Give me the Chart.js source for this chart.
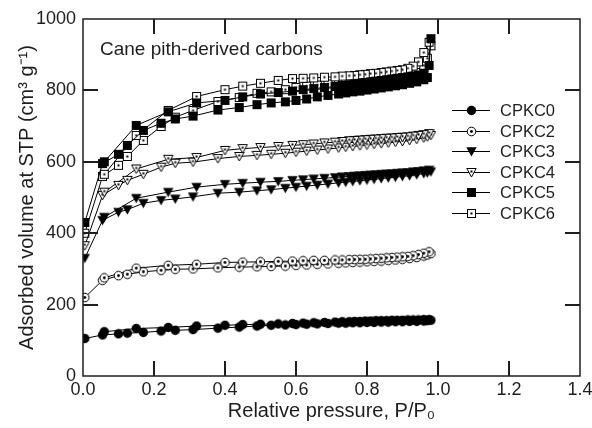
<!DOCTYPE html>
<html>
<head>
<meta charset="utf-8">
<script src="https://cdn.jsdelivr.net/npm/chart.js@4.4.0/dist/chart.umd.min.js"></script>
<style>
  html, body { margin: 0; padding: 0; background: #fff; }
  #wrap { width: 592px; height: 428px; }
</style>
</head>
<body>
<div id="wrap"><canvas id="isoChart" width="592" height="428"></canvas></div>
<script>
// Relative pressure P/P0: adsorption branch (up) and desorption branch (down)
const pAds = [0.005, 0.055, 0.1, 0.125, 0.17, 0.22, 0.26, 0.31, 0.38, 0.44, 0.49, 0.53, 0.57, 0.6, 0.63, 0.66,
              0.69, 0.72, 0.74, 0.76, 0.78, 0.8, 0.82, 0.84, 0.86, 0.88, 0.9, 0.92, 0.94, 0.96, 0.97, 0.98];
const pDes = [0.975, 0.96, 0.945, 0.93, 0.915, 0.9, 0.885, 0.87, 0.855, 0.84, 0.825, 0.81, 0.795, 0.78, 0.765,
              0.75, 0.73, 0.71, 0.68, 0.65, 0.62, 0.59, 0.55, 0.5, 0.45, 0.4, 0.32, 0.24, 0.15, 0.06];

// Adsorbed volume (cm3/g)
const cpkc0Ads = [105, 115, 118, 120, 122, 126, 128, 130, 134, 137, 140, 142, 143, 144, 145, 146, 147, 148, 148, 149, 149, 150, 150, 151, 151, 152, 152, 153, 153, 154, 155, 156];
const cpkc0Des = [158, 158, 157, 157, 157, 156, 156, 156, 155, 155, 155, 154, 154, 153, 153, 152, 152, 151, 150, 149, 148, 147, 146, 145, 144, 142, 140, 136, 133, 124];
const cpkc2Ads = [220, 268, 281, 285, 292, 296, 299, 300, 303, 305, 306, 307, 308, 310, 311, 313, 314, 316, 317, 318, 319, 320, 321, 322, 324, 325, 327, 329, 332, 336, 339, 343];
const cpkc2Des = [348, 344, 340, 337, 335, 334, 333, 332, 331, 330, 329, 328, 327, 327, 326, 326, 325, 325, 324, 324, 323, 322, 321, 320, 319, 318, 313, 310, 302, 275];
const cpkc3Ads = [330, 436, 459, 466, 484, 492, 496, 502, 512, 515, 519, 522, 526, 529, 532, 535, 538, 541, 543, 545, 547, 549, 551, 553, 555, 557, 559, 561, 564, 567, 569, 572];
const cpkc3Des = [577, 575, 573, 572, 570, 569, 568, 567, 566, 565, 564, 563, 562, 561, 560, 559, 558, 556, 554, 552, 550, 548, 545, 543, 540, 537, 529, 515, 498, 445];
const cpkc4Ads = [365, 506, 534, 548, 565, 585, 596, 599, 609, 615, 618, 621, 624, 627, 630, 633, 636, 639, 641, 643, 645, 647, 649, 651, 653, 655, 657, 660, 663, 667, 670, 674];
const cpkc4Des = [679, 676, 674, 672, 670, 669, 668, 667, 666, 665, 664, 663, 662, 661, 660, 659, 657, 655, 653, 650, 648, 646, 643, 640, 637, 632, 612, 607, 580, 515];
const cpkc5Ads = [430, 595, 621, 646, 688, 708, 720, 728, 745, 752, 760, 765, 768, 772, 776, 782, 786, 790, 793, 796, 798, 801, 804, 807, 810, 813, 816, 820, 824, 830, 836, 945];
const cpkc5Des = [870, 848, 843, 840, 838, 836, 834, 832, 830, 828, 826, 824, 822, 820, 818, 816, 814, 811, 808, 805, 802, 798, 794, 790, 782, 772, 765, 740, 702, 600];
const cpkc6Ads = [400, 559, 590, 615, 660, 699, 725, 744, 769, 780, 792, 796, 802, 808, 812, 815, 818, 821, 823, 825, 827, 829, 831, 833, 835, 837, 840, 844, 850, 870, 890, 925];
const cpkc6Des = [935, 906, 880, 868, 862, 858, 856, 854, 852, 850, 848, 847, 845, 844, 842, 841, 840, 838, 837, 835, 834, 833, 828, 820, 812, 802, 783, 744, 674, 565];

const seriesNames = ['CPKC0', 'CPKC2', 'CPKC3', 'CPKC4', 'CPKC5', 'CPKC6'];
const xTickValues = [0, 0.2, 0.4, 0.6, 0.8, 1.0, 1.2, 1.4];
const yTickValues = [0, 200, 400, 600, 800, 1000];

const FONT = "'Liberation Sans', Arial, sans-serif";
const INK = '#1e1e1e';

// small canvases used as point markers
function makeMarker(kind) {
    const c = document.createElement('canvas');
    c.width = 11;
    c.height = 11;
    const g = c.getContext('2d');
    g.fillStyle = '#000';
    g.strokeStyle = '#000';
    g.lineWidth = 1;
    if (kind === 'circleFill') {
        g.beginPath(); g.arc(5.5, 5.5, 4.7, 0, Math.PI * 2); g.fill();
    } else if (kind === 'circleDot') {
        g.beginPath(); g.arc(5.5, 5.5, 4.3, 0, Math.PI * 2);
        g.fillStyle = '#fff'; g.fill(); g.stroke();
        g.fillStyle = '#000';
        g.beginPath(); g.arc(5.5, 5.5, 1.4, 0, Math.PI * 2); g.fill();
    } else if (kind === 'triFill') {
        g.beginPath(); g.moveTo(0.3, 1.2); g.lineTo(10.7, 1.2); g.lineTo(5.5, 10.5); g.closePath(); g.fill();
    } else if (kind === 'triOpen') {
        g.beginPath(); g.moveTo(0.8, 1.5); g.lineTo(10.2, 1.5); g.lineTo(5.5, 10); g.closePath();
        g.fillStyle = '#fff'; g.fill(); g.stroke();
        g.fillStyle = '#000'; g.fillRect(4.5, 3.5, 2, 2);
    } else if (kind === 'squareFill') {
        g.fillRect(1, 1, 9, 9);
    } else if (kind === 'squareDot') {
        g.fillStyle = '#fff'; g.fillRect(1.5, 1.5, 8, 8);
        g.strokeRect(1.5, 1.5, 8, 8);
        g.fillStyle = '#000'; g.fillRect(4.5, 4.5, 2, 2);
    }
    return c;
}

const markers = [makeMarker('circleFill'), makeMarker('circleDot'), makeMarker('triFill'),
                 makeMarker('triOpen'), makeMarker('squareFill'), makeMarker('squareDot')];

function isotherm(ads, des) {
    const pts = pAds.map((p, i) => ({ x: p, y: ads[i] }));
    return pts.concat(pDes.map((p, i) => ({ x: p, y: des[i] })));
}

const allSeries = [
    [cpkc0Ads, cpkc0Des], [cpkc2Ads, cpkc2Des], [cpkc3Ads, cpkc3Des],
    [cpkc4Ads, cpkc4Des], [cpkc5Ads, cpkc5Des], [cpkc6Ads, cpkc6Des]
];

const datasets = allSeries.map((s, i) => ({
    label: seriesNames[i],
    data: isotherm(s[0], s[1]),
    showLine: true,
    borderColor: '#000',
    borderWidth: 1,
    tension: 0,
    pointStyle: markers[i],
    pointRadius: 5,
    pointHoverRadius: 5
}));

// frame, inward ticks on all four sides, legend with line segments, caption
const framePlugin = {
    id: 'frame',
    afterDraw(chart) {
        const ctx = chart.ctx;
        const a = chart.chartArea;
        const sx = chart.scales.x;
        const sy = chart.scales.y;
        ctx.save();
        ctx.strokeStyle = INK;
        ctx.lineWidth = 1.5;
        ctx.strokeRect(a.left, a.top, a.right - a.left, a.bottom - a.top);

        // inward tick marks
        ctx.fillStyle = INK;
        for (let i = 1; i < xTickValues.length - 1; i++) {
            const px = Math.round(sx.getPixelForValue(xTickValues[i]));
            ctx.fillRect(px - 1, a.bottom - 15, 2, 15);
            ctx.fillRect(px - 1, a.top, 2, 15);
        }
        for (let i = 1; i < yTickValues.length - 1; i++) {
            const py = Math.round(sy.getPixelForValue(yTickValues[i]));
            ctx.fillRect(a.left, py - 1, 15, 2);
            ctx.fillRect(a.right - 15, py - 1, 15, 2);
        }

        ctx.textBaseline = 'middle';
        ctx.textAlign = 'left';
        ctx.font = '19px ' + FONT;
        ctx.fillText('Cane pith-derived carbons', 100, 50);

        ctx.font = '16.5px ' + FONT;
        seriesNames.forEach((name, i) => {
            const y = Math.round(110 + i * 20.6);
            ctx.strokeStyle = '#000';
            ctx.lineWidth = 1;
            ctx.beginPath();
            ctx.moveTo(452, y + 0.5);
            ctx.lineTo(490, y + 0.5);
            ctx.stroke();
            ctx.drawImage(markers[i], 466, y - 5);
            ctx.fillText(name, 500, y + 1);
        });
        ctx.restore();
    }
};

const chart = new Chart(document.getElementById('isoChart'), {
    type: 'scatter',
    data: { datasets: datasets },
    options: {
        responsive: false,
        animation: false,
        devicePixelRatio: 1,
        layout: { padding: { top: 19, right: 12, left: 0, bottom: 0 } },
        plugins: {
            legend: { display: false },
            tooltip: { enabled: false }
        },
        scales: {
            x: {
                type: 'linear',
                min: 0,
                max: 1.4,
                afterBuildTicks(scale) {
                    scale.ticks = xTickValues.map(v => ({ value: v }));
                },
                afterFit(scale) {
                    scale.height = 52;
                    scale.paddingLeft = 0;
                    scale.paddingRight = 0;
                },
                grid: { display: false, drawTicks: false },
                border: { display: false },
                ticks: {
                    padding: 3,
                    color: INK,
                    font: { family: FONT, size: 18 },
                    callback: v => Number(v).toFixed(1)
                },
                title: {
                    display: true,
                    text: 'Relative pressure, P/P\u2080',
                    color: INK,
                    font: { family: FONT, size: 20 },
                    padding: { top: 0, bottom: 5 }
                }
            },
            y: {
                type: 'linear',
                min: 0,
                max: 1000,
                afterBuildTicks(scale) {
                    scale.ticks = yTickValues.map(v => ({ value: v }));
                },
                afterFit(scale) {
                    scale.width = 83;
                    scale.paddingTop = 0;
                    scale.paddingBottom = 0;
                },
                grid: { display: false, drawTicks: false },
                border: { display: false },
                ticks: {
                    padding: 7,
                    color: INK,
                    font: { family: FONT, size: 18 },
                    callback: v => String(v)
                },
                title: {
                    display: true,
                    text: 'Adsorbed volume at STP (cm\u00b3 g\u207b\u00b9)',
                    color: INK,
                    font: { family: FONT, size: 20 },
                    padding: { top: 15, bottom: 0 }
                }
            }
        }
    },
    plugins: [framePlugin]
});
</script>
</body>
</html>
